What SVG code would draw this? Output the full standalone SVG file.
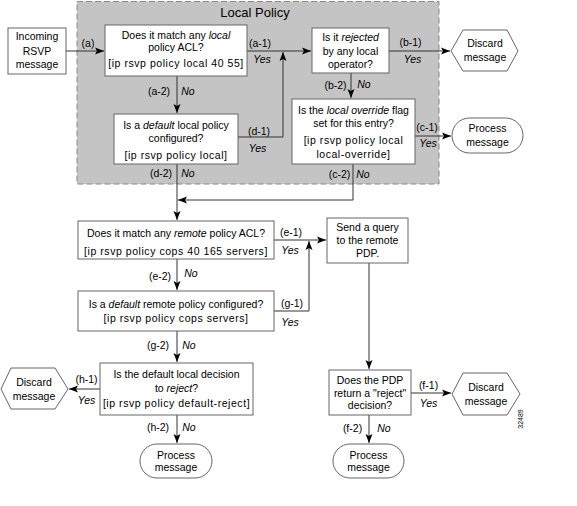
<svg xmlns="http://www.w3.org/2000/svg" width="577" height="506" viewBox="0 0 577 506">
<defs>
<style>
text{font-family:"Liberation Sans",Arial,sans-serif;font-size:10.5px;fill:#000;text-anchor:middle}
.i{font-style:italic}
.br{letter-spacing:0.55px}
.box{fill:#fff;stroke:#666;stroke-width:1}
.ln{fill:none;stroke:#333;stroke-width:1}
.region{fill:#c4c4c4;stroke:#888;stroke-width:1;stroke-dasharray:6,3}
</style>
<marker id="ah" markerUnits="userSpaceOnUse" markerWidth="10" markerHeight="8" refX="9" refY="4" orient="auto">
<path d="M0,0.5 L9,4 L0,7.5 L2,4 z" fill="#000"/>
</marker>
</defs>
<rect width="577" height="506" fill="#fff"/>

<g id="local-policy">
<rect class="region" x="77" y="1.5" width="362" height="182.5"/>
<text x="255" y="17" style="font-size:13px">Local Policy</text>
</g>

<g id="connectors">
<path class="ln" d="M66,51 H104" marker-end="url(#ah)"/>
<path class="ln" d="M247,51 H311" marker-end="url(#ah)"/>
<path class="ln" d="M238,137 H283 V52" marker-end="url(#ah)"/>
<path class="ln" d="M177,76 V113" marker-end="url(#ah)"/>
<path class="ln" d="M389,51 H450" marker-end="url(#ah)"/>
<path class="ln" d="M351,73 V98" marker-end="url(#ah)"/>
<path class="ln" d="M415,136 H451" marker-end="url(#ah)"/>
<path class="ln" d="M177,164 V220" marker-end="url(#ah)"/>
<path class="ln" d="M353,164 V200 H178" marker-end="url(#ah)"/>
<path class="ln" d="M274,240 H326" marker-end="url(#ah)"/>
<path class="ln" d="M274,311 H309 V241" marker-end="url(#ah)"/>
<path class="ln" d="M177,259 V290" marker-end="url(#ah)"/>
<path class="ln" d="M177,331 V362" marker-end="url(#ah)"/>
<path class="ln" d="M100,389 H69" marker-end="url(#ah)"/>
<path class="ln" d="M177,415 V443" marker-end="url(#ah)"/>
<path class="ln" d="M369,263 V369" marker-end="url(#ah)"/>
<path class="ln" d="M411,393 H451" marker-end="url(#ah)"/>
<path class="ln" d="M369,415 V443" marker-end="url(#ah)"/>
</g>

<g id="labels">
<text x="88" y="46.5">(a)</text>
<text x="260" y="46.5">(a-1)</text><text x="262" y="62.5" class="i">Yes</text>
<text x="159" y="94.5">(a-2)</text><text x="188" y="94.5" class="i">No</text>
<text x="259" y="135">(d-1)</text><text x="257.5" y="151.5" class="i">Yes</text>
<text x="161" y="176.5">(d-2)</text><text x="188" y="176.5" class="i">No</text>
<text x="410.5" y="45.5">(b-1)</text><text x="412.5" y="62.5" class="i">Yes</text>
<text x="335.5" y="88.5">(b-2)</text><text x="364" y="87.5" class="i">No</text>
<text x="427" y="130.5">(c-1)</text><text x="428" y="146.5" class="i">Yes</text>
<text x="339.5" y="177.5">(c-2)</text><text x="363" y="177.5" class="i">No</text>
<text x="291" y="235.5">(e-1)</text><text x="290" y="253.5" class="i">Yes</text>
<text x="160" y="279.5">(e-2)</text><text x="191" y="276.5" class="i">No</text>
<text x="292" y="306.5">(g-1)</text><text x="290" y="325.5" class="i">Yes</text>
<text x="158" y="348.5">(g-2)</text><text x="189" y="348.5" class="i">No</text>
<text x="86.5" y="382.5">(h-1)</text><text x="86.5" y="403.5" class="i">Yes</text>
<text x="158" y="430.5">(h-2)</text><text x="189" y="430.5" class="i">No</text>
<text x="428.5" y="388.5">(f-1)</text><text x="428.5" y="406.5" class="i">Yes</text>
<text x="352.5" y="431.5">(f-2)</text><text x="384" y="431.5" class="i">No</text>
</g>

<g id="incoming">
<rect class="box" x="8" y="28" width="58" height="46"/>
<text x="37" y="40">Incoming</text>
<text x="37" y="54.5">RSVP</text>
<text x="37" y="68">message</text>
</g>

<g id="match-local">
<rect class="box" x="105" y="25" width="142" height="51"/>
<text x="176" y="38.5">Does it match any <tspan class="i">local</tspan></text>
<text x="176" y="51">policy ACL?</text>
<text x="176" y="66.5" class="br">[ip rsvp policy local 40 55]</text>
</g>

<g id="default-local">
<rect class="box" x="114" y="114" width="124" height="50"/>
<text x="176" y="128.5">Is a <tspan class="i">default</tspan> local policy</text>
<text x="176" y="141.5">configured?</text>
<text x="176" y="158.5" class="br">[ip rsvp policy local]</text>
</g>

<g id="rejected">
<rect class="box" x="312" y="28" width="77" height="45"/>
<text x="350.5" y="40.5">Is it <tspan class="i">rejected</tspan></text>
<text x="350.5" y="54.5">by any local</text>
<text x="350.5" y="67.5">operator?</text>
</g>

<g id="discard-b">
<polygon class="box" points="451,51 463,30 507,30 518,51 507,71 463,71"/>
<text x="485" y="46.5">Discard</text>
<text x="485" y="60.5">message</text>
</g>

<g id="override">
<rect class="box" x="292" y="99" width="123" height="65"/>
<text x="353.5" y="113.5">Is the <tspan class="i">local override</tspan> flag</text>
<text x="353.5" y="126.5">set for this entry?</text>
<text x="353.5" y="143.5" class="br">[ip rsvp policy local</text>
<text x="353.5" y="157.5" class="br">local-override]</text>
</g>

<g id="process-c">
<rect class="box" x="452" y="118" width="71" height="35" rx="17.5"/>
<text x="487.5" y="131.5">Process</text>
<text x="487.5" y="145.5">message</text>
</g>

<g id="match-remote">
<rect class="box" x="78" y="221" width="196" height="38"/>
<text x="176" y="236.5">Does it match any <tspan class="i">remote</tspan> policy ACL?</text>
<text x="176" y="254.5" class="br">[ip rsvp policy cops 40 165 servers]</text>
</g>

<g id="default-remote">
<rect class="box" x="78" y="291" width="196" height="40"/>
<text x="176" y="307.5">Is a <tspan class="i">default</tspan> remote policy configured?</text>
<text x="176" y="321.5" class="br">[ip rsvp policy cops servers]</text>
</g>

<g id="send-query">
<rect class="box" x="327" y="218" width="81" height="45"/>
<text x="367.5" y="230.5">Send a query</text>
<text x="367.5" y="244">to the remote</text>
<text x="367.5" y="256.5">PDP.</text>
</g>

<g id="default-reject">
<rect class="box" x="100" y="363" width="153" height="52"/>
<text x="176.5" y="377.5">Is the default local decision</text>
<text x="176.5" y="391.5">to <tspan class="i">reject</tspan>?</text>
<text x="176.5" y="406.5" class="br">[ip rsvp policy default-reject]</text>
</g>

<g id="discard-h">
<polygon class="box" points="1,389 11,368 55,368 68,389 55,409 11,409"/>
<text x="34" y="385.5">Discard</text>
<text x="34" y="399.5">message</text>
</g>

<g id="process-h">
<rect class="box" x="140" y="444" width="72" height="34" rx="17"/>
<text x="176" y="458.5">Process</text>
<text x="176" y="471">message</text>
</g>

<g id="pdp-reject">
<rect class="box" x="329" y="370" width="82" height="45"/>
<text x="370" y="383.5">Does the PDP</text>
<text x="370" y="396.5">return a "reject"</text>
<text x="370" y="408.5">decision?</text>
</g>

<g id="discard-f">
<polygon class="box" points="452,394 463,373 507,373 520,394 507,415 463,415"/>
<text x="486" y="390.5">Discard</text>
<text x="486" y="404.5">message</text>
</g>

<g id="process-f">
<rect class="box" x="333" y="444" width="71" height="34" rx="17"/>
<text x="368.5" y="458.5">Process</text>
<text x="368.5" y="471">message</text>
</g>

<text x="0" y="0" transform="translate(522.5,419) rotate(-90)" style="font-size:7px">32489</text>
</svg>
